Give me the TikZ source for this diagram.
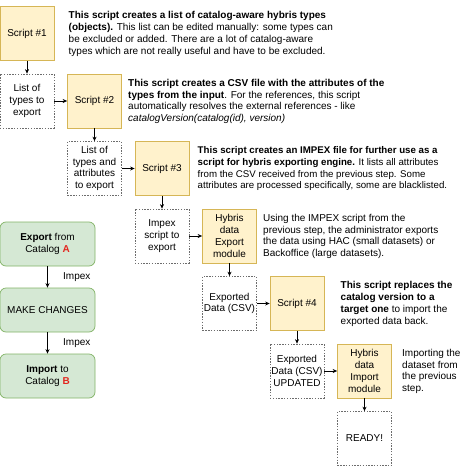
\documentclass[tikz,border=0pt]{standalone}
\usepackage{fontspec}
\setmainfont{Liberation Sans}
\usetikzlibrary{arrows.meta,positioning}
\definecolor{stepfill}{HTML}{FFF2CC}
\definecolor{stepline}{HTML}{D6B656}
\definecolor{catfill}{HTML}{D5E8D4}
\definecolor{catline}{HTML}{82B366}
\definecolor{catred}{HTML}{E3261F}
\tikzset{
  scriptbox/.style={draw=stepline, fill=stepfill, minimum width=54pt, minimum height=54pt, align=center, inner sep=1pt},
  databox/.style={draw=gray!85!black, dash pattern=on 1.4pt off 1.4pt, fill=white, minimum width=54pt, minimum height=54pt, align=center, inner sep=1pt},
  catbox/.style={draw=catline, fill=catfill, rounded corners=6pt, minimum width=95pt, minimum height=44pt, align=center},
  note/.style={anchor=north west, align=left, inner sep=0pt},
}
\begin{document}
\begin{tikzpicture}[node distance=67.5pt, line width=0.7pt, font=\fontsize{10}{11.8}\selectfont, >={Stealth[length=4.5pt,width=4pt]}]
        \useasboundingbox (0,0) rectangle (474pt,-466pt);
        % Steps
        \node[scriptbox] (script1) at (27pt,-33.5pt) {Script \#1};
        \node[databox, below of=script1] (types) {List of\\types to\\export};
        \node[scriptbox, right of=types] (script2) {Script \#2};
        \node[databox, below of=script2] (attrs) {List of\\types and\\attributes\\to export};
        \node[scriptbox, right of=attrs] (script3) {Script \#3};
        \node[databox, below of=script3] (impex) {Impex\\script to\\export};
        \node[scriptbox, right of=impex] (exportmod) {Hybris\\data\\Export\\module};
        \node[databox, below of=exportmod] (csv) {Exported\\Data (CSV)};
        \node[scriptbox, right of=csv] (script4) {Script \#4};
        \node[databox, below of=script4] (csvnew) {Exported\\Data (CSV)\\UPDATED};
        \node[scriptbox, right of=csvnew] (importmod) {Hybris\\data\\Import\\module};
        \node[databox, below of=importmod] (ready) {READY!};

        % Notes
        \node[note] (note1) at ([xshift=14pt,yshift=-5pt]script1.north east) {\textbf{This script creates a list of catalog-aware hybris types}\\\textbf{(objects).} This list can be edited manually: some types can\\be excluded or added. There are a lot of catalog-aware\\types which are not really useful and have to be excluded.};
        \node[note] (note2) at ([xshift=6pt,yshift=-5pt]script2.north east) {\textbf{This script creates a CSV file with the attributes of the}\\\textbf{types from the input}. For the references, this script\\automatically resolves the external references - like\\\textit{catalogVersion(catalog(id), version)}};
        \node[note, font=\fontsize{9.7}{11.8}\selectfont] (note3) at ([xshift=8pt,yshift=-5pt]script3.north east) {\textbf{This script creates an IMPEX file for further use as a}\\\textbf{script for hybris exporting engine.} It lists all attributes\\from the CSV received from the previous step. Some\\attributes are processed specifically, some are blacklisted.};
        \node[note] (noteexp) at ([xshift=6pt,yshift=-5pt]exportmod.north east) {Using the IMPEX script from the\\previous step, the administrator exports\\the data using HAC (small datasets) or\\Backoffice (large datasets).};
        \node[note] (note4) at ([xshift=16pt,yshift=-5pt]script4.north east) {\textbf{This script replaces the}\\\textbf{catalog version to a}\\\textbf{target one} to import the\\exported data back.};
        \node[note] (noteimp) at ([xshift=10pt,yshift=-5pt]importmod.north east) {Importing the\\dataset from\\the previous\\step.};

        % Catalogs
        \node[catbox] (catA) at (47.5pt,-244pt) {\textbf{Export} from\\Catalog \textcolor{catred}{\textbf{A}}};
        \node[catbox, below of=catA, node distance=66pt] (changes) {MAKE CHANGES};
        \node[catbox, below of=changes, node distance=66pt] (catB) {\textbf{Import} to\\Catalog \textcolor{catred}{\textbf{B}}};

        % Arrows
        \draw[->] (script1) -- (types);
        \draw[->] (types) -- (script2);
        \draw[->] (script2) -- (attrs);
        \draw[->] (attrs) -- (script3);
        \draw[->] (script3) -- (impex);
        \draw[->] (impex) -- (exportmod);
        \draw[->] (exportmod) -- (csv);
        \draw[->] (csv) -- (script4);
        \draw[->] (script4) -- (csvnew);
        \draw[->] (csvnew) -- (importmod);
        \draw[->] (importmod) -- (ready);
        \draw[->] (catA) -- node[right=12pt] {Impex} (changes);
        \draw[->] (changes) -- node[right=12pt] {Impex} (catB);
    \end{tikzpicture}
\end{document}
